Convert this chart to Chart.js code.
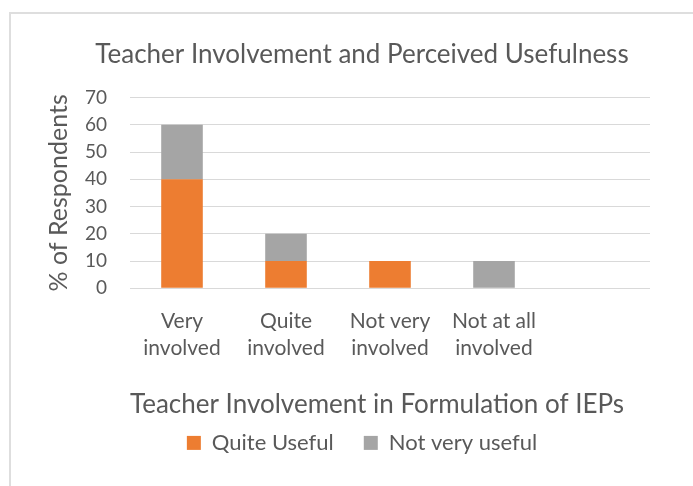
<!DOCTYPE html>
<html>
<head>
<meta charset="utf-8">
<script src="https://cdn.jsdelivr.net/npm/chart.js@4"></script>
<style>
  body { margin: 0; background: #fff; overflow: hidden; }
  #wrap { position: relative; width: 693px; height: 486px; }
  #frame { position: absolute; left: 9px; top: 12px; width: 800px; height: 600px; border: 2px solid #dedede; }
  #chart { position: absolute; left: 0; top: 0; }
</style>
</head>
<body>
<div id="wrap">
  <div id="frame"></div>
  <canvas id="chart" width="693" height="486"></canvas>
</div>
<script>
const categories = [['Very', 'involved'], ['Quite', 'involved'], ['Not very', 'involved'], ['Not at all', 'involved'], ''];
const quiteUseful = [40, 10, 10, 0, null];
const notVeryUseful = [20, 10, 0, 10, null];
const yTicks = [0, 10, 20, 30, 40, 50, 60, 70];

const textColor = '#595959';
const font = 'Lato';

const ctx = document.getElementById('chart').getContext('2d');
new Chart(ctx, {
    type: 'bar',
    data: {
        labels: categories,
        datasets: [
            {
                label: 'Quite Useful',
                data: quiteUseful,
                backgroundColor: '#ED7D31',
                borderWidth: 0,
                barPercentage: 0.4,
                categoryPercentage: 1
            },
            {
                label: 'Not very useful',
                data: notVeryUseful,
                backgroundColor: '#A5A5A5',
                borderWidth: 0,
                barPercentage: 0.4,
                categoryPercentage: 1
            }
        ]
    },
    options: {
        responsive: false,
        animation: false,
        layout: {
            padding: { left: 43, right: 12, top: 0, bottom: 22.1 }
        },
        plugins: {
            title: {
                display: true,
                text: 'Teacher Involvement and Perceived Usefulness',
                color: textColor,
                font: { family: font, size: 26, weight: 'normal', lineHeight: 1.2 },
                padding: { top: 38.6, bottom: 27.7 }
            },
            legend: {
                position: 'bottom',
                labels: {
                    color: textColor,
                    font: { family: font, size: 22 },
                    boxWidth: 14,
                    boxHeight: 14,
                    padding: 30
                }
            },
            tooltip: { enabled: false }
        },
        scales: {
            x: {
                stacked: true,
                grid: { display: false, drawTicks: false },
                border: { display: false },
                ticks: {
                    color: textColor,
                    font: { family: font, size: 21, lineHeight: 1.27 },
                    padding: 19.8,
                    maxRotation: 0,
                    autoSkip: false
                },
                title: {
                    display: true,
                    align: 'start',
                    text: 'Teacher Involvement in Formulation of IEPs',
                    color: textColor,
                    font: { family: font, size: 26, lineHeight: 1.2 },
                    padding: { top: 0, bottom: -17.9 }
                },
                afterFit: function(scale) {
                    scale.height = 113.6;
                }
            },
            y: {
                stacked: true,
                min: 0,
                max: 70,
                grid: { color: '#d9d9d9', drawTicks: false },
                border: { display: false },
                ticks: {
                    stepSize: 10,
                    color: textColor,
                    font: { family: font, size: 19 },
                    padding: 23,
                    callback: function(value) {
                        return yTicks.includes(value) ? value : '';
                    }
                },
                title: {
                    display: true,
                    text: '% of Respondents',
                    color: textColor,
                    font: { family: font, size: 25, lineHeight: 1.2 },
                    padding: { top: 1, bottom: 0 }
                },
                afterFit: function(scale) {
                    scale.width = 87;
                }
            },
            // empty axis on the right, only to hold the plot edge in place
            yr: {
                type: 'linear',
                position: 'right',
                grid: { display: false },
                border: { display: false },
                ticks: { display: false },
                afterFit: function(scale) {
                    scale.width = 31;
                }
            }
        }
    }
});
</script>
</body>
</html>
